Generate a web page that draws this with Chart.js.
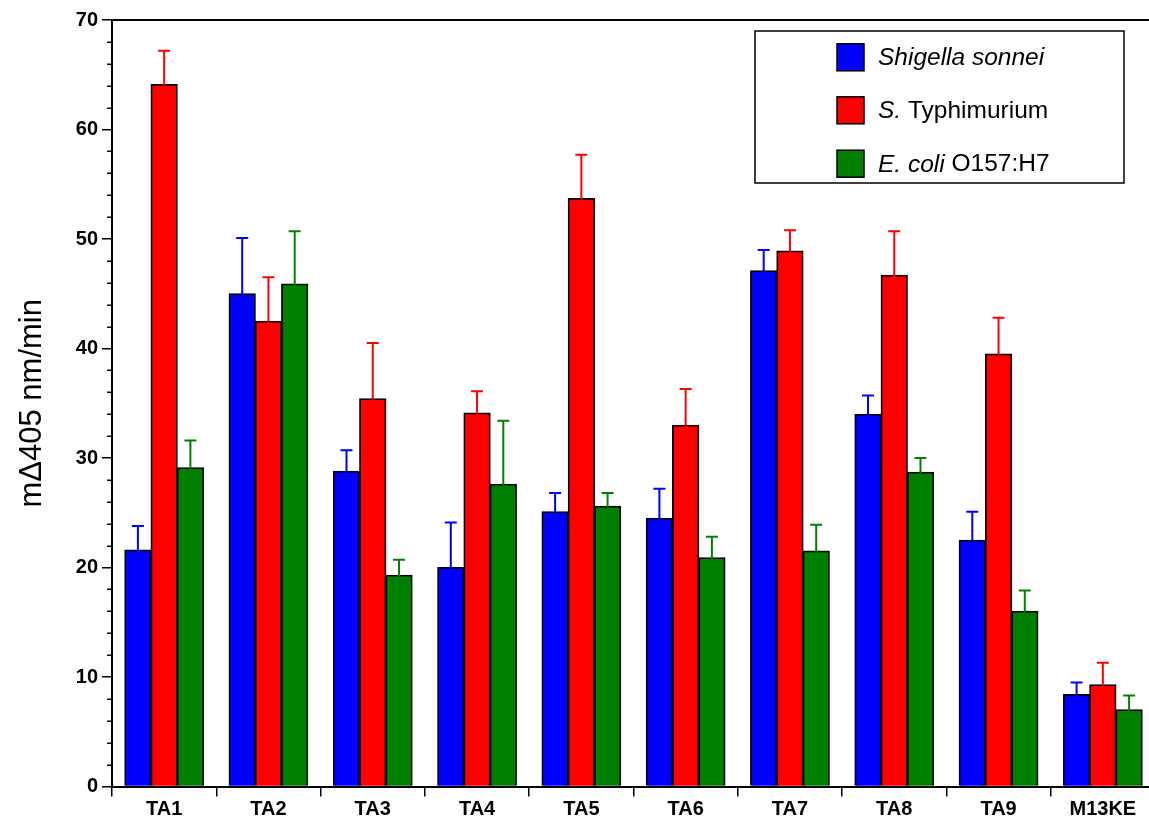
<!DOCTYPE html>
<html>
<head>
<meta charset="utf-8">
<title>Phage ELISA signal by clone</title>
<script src="https://cdn.jsdelivr.net/npm/chart.js@4/dist/chart.umd.min.js"></script>
<style>
  html, body { margin: 0; padding: 0; overflow: hidden; background: #fff; }
  canvas { display: block; }
</style>
</head>
<body>
<canvas id="c" width="1155" height="821"></canvas>
<script>
// Clones tested
const categories = ['TA1', 'TA2', 'TA3', 'TA4', 'TA5', 'TA6', 'TA7', 'TA8', 'TA9', 'M13KE'];

// Mean rate (mΔ405 nm/min) per target bacterium
const shigellaMean    = [21.6, 45.0, 28.8, 20.0, 25.1, 24.5, 47.1, 34.0, 22.5, 8.4];
const typhimuriumMean = [64.1, 42.5, 35.4, 34.1, 53.7, 33.0, 48.9, 46.7, 39.5, 9.3];
const ecoliMean       = [29.1, 45.9, 19.3, 27.6, 25.6, 20.9, 21.5, 28.7, 16.0, 7.0];

// Upper error (standard deviation)
const shigellaSD    = [2.2, 5.1, 1.9, 4.1, 1.7, 2.7, 1.9, 1.7, 2.6, 1.1];
const typhimuriumSD = [3.1, 4.0, 5.1, 2.0, 4.0, 3.3, 1.9, 4.0, 3.3, 2.0];
const ecoliSD       = [2.5, 4.8, 1.4, 5.8, 1.2, 1.9, 2.4, 1.3, 1.9, 1.3];

// Y axis range and tick spacing
const yMin = 0, yMax = 70, yMajorStep = 10, yMinorStep = 2;

// Legend text, split into italic / upright runs
const legendShigella    = [['Shigella sonnei', true]];
const legendTyphimurium = [['S.', true], [' Typhimurium', false]];
const legendEcoli       = [['E. coli', true], [' O157:H7', false]];

const BLUE = '#0000ff', RED = '#ff0000', GREEN = '#008000';
const FONT = "'Liberation Sans', Arial, Helvetica, sans-serif";

const errors = [shigellaSD, typhimuriumSD, ecoliSD];
const legendRows = [legendShigella, legendTyphimurium, legendEcoli];

const decorations = {
  id: 'decorations',
  afterDatasetsDraw(chart) {
    const ctx = chart.ctx;
    const ys = chart.scales.y;
    ctx.save();
    ctx.lineWidth = 2;
    chart.data.datasets.forEach((ds, di) => {
      const meta = chart.getDatasetMeta(di);
      meta.data.forEach((bar, i) => {
        const top = ys.getPixelForValue(ds.data[i] + errors[di][i]);
        ctx.strokeStyle = ds.backgroundColor;
        ctx.beginPath();
        ctx.moveTo(bar.x, bar.y + 1);
        ctx.lineTo(bar.x, top);
        ctx.moveTo(bar.x - 6, top);
        ctx.lineTo(bar.x + 6, top);
        ctx.stroke();
      });
    });
    ctx.restore();
  },
  afterDraw(chart) {
    const ctx = chart.ctx;
    const a = chart.chartArea;
    const ys = chart.scales.y;
    ctx.save();

    // frame along top and right of the plot
    ctx.strokeStyle = '#000';
    ctx.lineWidth = 2;
    ctx.beginPath();
    ctx.moveTo(a.left, a.top);
    ctx.lineTo(a.right, a.top);
    ctx.lineTo(a.right, a.bottom);
    ctx.stroke();

    // minor ticks on the value axis
    ctx.lineWidth = 1.5;
    ctx.beginPath();
    for (let v = yMin; v <= yMax; v += yMinorStep) {
      if (v % yMajorStep === 0) continue;
      const y = Math.round(ys.getPixelForValue(v)) + 0.25;
      ctx.moveTo(a.left - 5, y);
      ctx.lineTo(a.left, y);
    }
    ctx.stroke();

    // legend box
    const bx = a.left + 643, by = a.top + 11, bw = 369, bh = 152;
    ctx.lineWidth = 1.5;
    ctx.strokeStyle = '#000';
    ctx.strokeRect(bx, by, bw, bh);
    const rowY = [26.3, 79.3, 132.7];
    chart.data.datasets.forEach((ds, di) => {
      const cy = by + rowY[di];
      ctx.fillStyle = ds.backgroundColor;
      ctx.fillRect(bx + 82, cy - 13.5, 27, 27);
      ctx.lineWidth = 1.5;
      ctx.strokeRect(bx + 82, cy - 13.5, 27, 27);
      let tx = bx + 123;
      ctx.fillStyle = '#000';
      ctx.textBaseline = 'middle';
      ctx.textAlign = 'left';
      legendRows[di].forEach(([text, italic]) => {
        ctx.font = (italic ? 'italic ' : '') + '24.5px ' + FONT;
        ctx.fillText(text, tx, cy + 1);
        tx += ctx.measureText(text).width;
      });
    });
    ctx.restore();
  }
};

const tickFont = { family: FONT, size: 20, weight: 'bold' };

new Chart(document.getElementById('c'), {
  type: 'bar',
  data: {
    labels: categories,
    datasets: [
      { label: 'Shigella sonnei', data: shigellaMean, backgroundColor: BLUE },
      { label: 'S. Typhimurium', data: typhimuriumMean, backgroundColor: RED },
      { label: 'E. coli O157:H7', data: ecoliMean, backgroundColor: GREEN }
    ]
  },
  options: {
    responsive: false,
    animation: false,
    devicePixelRatio: 1,
    layout: { padding: { top: 20, left: 0, right: 0, bottom: 0 } },
    datasets: {
      bar: {
        categoryPercentage: 0.755,
        barPercentage: 1.0,
        borderColor: '#000',
        borderWidth: 1.75,
        inflateAmount: 0.5
      }
    },
    plugins: {
      legend: { display: false },
      tooltip: { enabled: false }
    },
    scales: {
      x: {
        ticks: { color: '#000', font: tickFont, padding: 1 },
        grid: { drawOnChartArea: false, drawTicks: true, tickLength: 10, color: '#000', lineWidth: 1.5, offset: true },
        border: { color: '#000', width: 2 },
        afterFit(s) { s.height = 34.5; }
      },
      y: {
        min: yMin,
        max: yMax,
        ticks: { stepSize: yMajorStep, color: '#000', font: tickFont, padding: 4 },
        grid: { drawOnChartArea: false, drawTicks: true, tickLength: 10, color: '#000', lineWidth: 1.5 },
        border: { color: '#000', width: 2 },
        title: {
          display: true,
          text: 'mΔ405 nm/min',
          color: '#000',
          font: { family: FONT, size: 31 },
          padding: { top: 14, bottom: 0 }
        },
        afterFit(s) { s.width = 112; }
      }
    }
  },
  plugins: [decorations]
});
</script>
</body>
</html>
